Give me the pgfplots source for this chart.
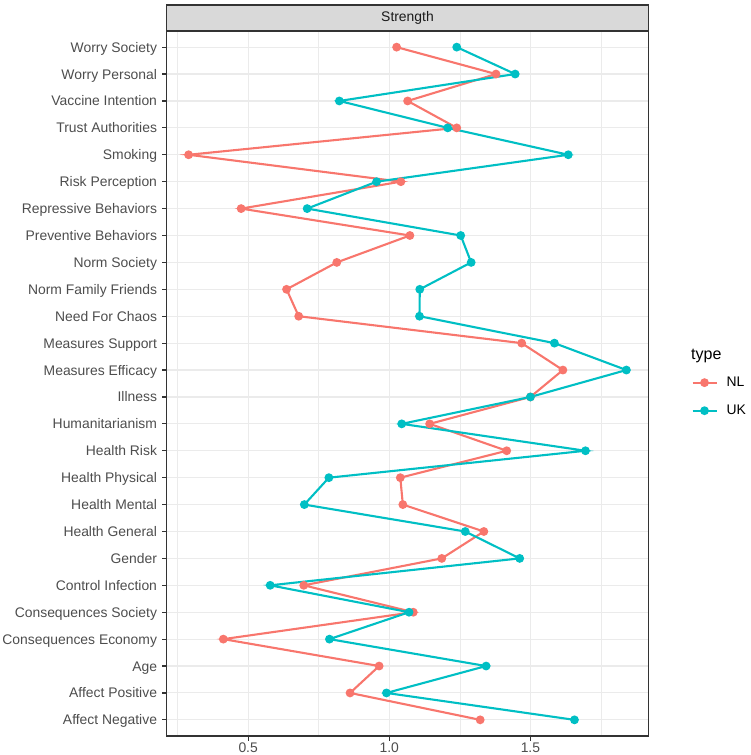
\documentclass[border=0pt]{standalone}
\usepackage{pgfplots}
\pgfplotsset{compat=1.18}
\usepackage{fontspec}
\setmainfont{Liberation Sans}
\definecolor{nlcol}{HTML}{F8766D}
\definecolor{ukcol}{HTML}{00BFC4}
\definecolor{gridc}{HTML}{EBEBEB}
\definecolor{gray20}{HTML}{333333}
\definecolor{gray30}{HTML}{4D4D4D}
\definecolor{gray85}{HTML}{D9D9D9}
\definecolor{gray10}{HTML}{1A1A1A}
\begin{document}
\begin{tikzpicture}[x=1pt,y=1pt]
\useasboundingbox (0,0) rectangle (750,755);
\begin{axis}[
  name=ax,
  at={(166.7pt,19pt)}, anchor=south west,
  scale only axis, width=481.6pt, height=705pt,
  xmin=0.2114, xmax=1.9176,
  ymin=-0.6, ymax=25.6,
  xtick={0.5,1.0,1.5},
  xticklabels={0.5,1.0,1.5},
  minor xtick={0.25,0.75,1.25,1.75},
  ytick={0,...,25},
  yticklabels={Affect Negative,Affect Positive,Age,Consequences Economy,Consequences Society,Control Infection,Gender,Health General,Health Mental,Health Physical,Health Risk,Humanitarianism,Illness,Measures Efficacy,Measures Support,Need For Chaos,Norm Family Friends,Norm Society,Preventive Behaviors,Repressive Behaviors,Risk Perception,Smoking,Trust Authorities,Vaccine Intention,Worry Personal,Worry Society},
  xmajorgrids, ymajorgrids, xminorgrids,
  major grid style={color=gridc, line width=1.1pt},
  minor grid style={color=gridc, line width=0.55pt},
  axis line style={draw=gray20, line width=1.2pt},
  tick align=outside,
  major tick length=4.5pt,
  minor tick length=0pt,
  tick style={draw=gray20, line width=1.2pt},
  xtick pos=bottom, ytick pos=left,
  ticklabel style={font=\fontsize{13.9}{16}\selectfont, text=gray30},
  xticklabel style={inner sep=2pt},
  yticklabel style={inner sep=0pt, xshift=-5pt, text height=10pt, text depth=0pt},
  /pgf/number format/assume math mode=true,
  clip=false,
  legend style={draw=none, fill=none, at={(1.083,0.515)}, anchor=north west,
    font=\fontsize{13.9}{16}\selectfont, row sep=13pt,
    /tikz/every odd column/.append style={column sep=7pt}},
  legend cell align=left,
  legend image code/.code={\draw[mark repeat=2,mark phase=2] plot coordinates {(0pt,0pt)(12pt,0pt)(24pt,0pt)};},
]
\addplot[nlcol, line width=2.1pt, mark=*, mark size=3.3pt] coordinates {
(1.322,0) (0.861,1) (0.964,2) (0.412,3) (1.085,4) (0.697,5) (1.186,6) (1.335,7)
(1.048,8) (1.039,9) (1.416,10) (1.143,11) (1.500,12) (1.615,13) (1.469,14) (0.679,15)
(0.636,16) (0.814,17) (1.073,18) (0.475,19) (1.041,20) (0.289,21) (1.239,22) (1.065,23)
(1.378,24) (1.026,25)};
\addlegendentry{NL}
\addplot[ukcol, line width=2.1pt, mark=*, mark size=3.3pt] coordinates {
(1.656,0) (0.990,1) (1.343,2) (0.788,3) (1.070,4) (0.578,5) (1.462,6) (1.269,7)
(0.699,8) (0.786,9) (1.695,10) (1.044,11) (1.500,12) (1.840,13) (1.585,14) (1.107,15)
(1.108,16) (1.290,17) (1.253,18) (0.709,19) (0.955,20) (1.634,21) (1.207,22) (0.823,23)
(1.446,24) (1.239,25)};
\addlegendentry{UK}
\end{axis}
\draw[fill=gray85, draw=gray20, line width=1.2pt] (ax.north west) rectangle ([yshift=26pt]ax.north east);
\node[text=gray10, font=\fontsize{13.9}{16}\selectfont] at ([yshift=13pt]ax.north) {Strength};
\node[anchor=west, font=\fontsize{16}{18}\selectfont, inner sep=0pt] at (691,399) {type};
\end{tikzpicture}
\end{document}
